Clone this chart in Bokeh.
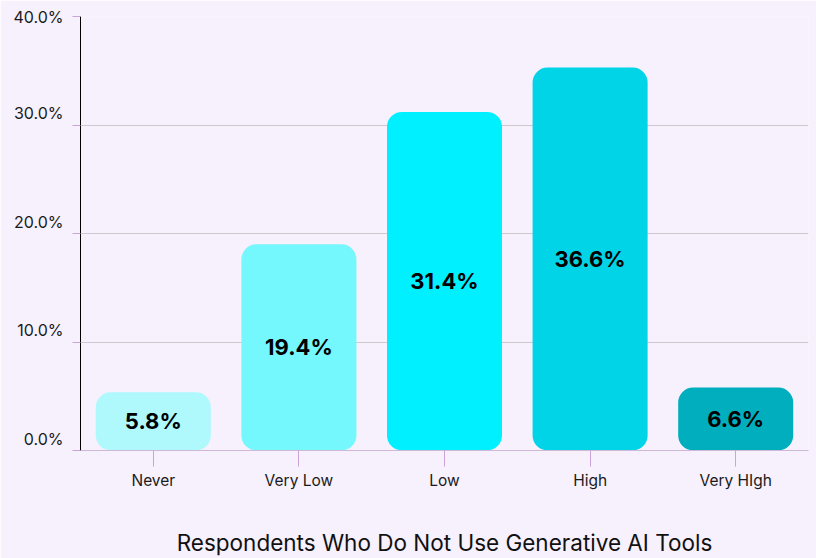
from bokeh.plotting import figure
from bokeh.models import ColumnDataSource, FixedTicker, FactorRange, Range1d
from bokeh.core.properties import value
from bokeh.embed import file_html
from bokeh.resources import INLINE

categories = ["Never", "Very Low", "Low", "High", "Very HIgh"]
bar_values = [5.37, 19.0, 31.2, 35.3, 5.8]
bar_labels = ["5.8%", "19.4%", "31.4%", "36.6%", "6.6%"]
colors = ["#aff9fd", "#74f7fd", "#00f0ff", "#00d4e6", "#00aebd"]
y_ticks = [0, 10, 20, 30, 40]
y_tick_labels = ["0.0%\n", "10.0%\n", "20.0%\n", "30.0%\n", "40.0%"]
x_title = "Respondents Who Do Not Use Generative AI Tools"

BG = "#f7f0fd"
FONT = "Inter"

src = ColumnDataSource(dict(
    cat=categories,
    val=bar_values,
    mid=[v / 2 for v in bar_values],
    lab=bar_labels,
    color=colors,
))

p = figure(
    x_range=FactorRange(factors=categories, range_padding=0),
    y_range=Range1d(0, 40),
    width=816, height=558,
    output_backend="svg", toolbar_location=None,
    min_border_left=80, min_border_right=8, min_border_top=16, min_border_bottom=0,
    background_fill_color=BG, border_fill_color=BG,
)
p.outline_line_color = None

p.vbar(x="cat", top="val", bottom=0, width=0.79, source=src,
       fill_color="color", line_color=None, border_radius=15)

p.text(x="cat", y="mid", text="lab", source=src,
       text_font=value(FONT), text_font_size="22px", text_font_style="bold",
       text_color="#000000", text_align="center", text_baseline="middle")

# grid
p.xgrid.grid_line_color = None
p.ygrid.grid_line_color = "#cccacd"
p.ygrid.grid_line_width = 1
p.ygrid.ticker = FixedTicker(ticks=y_ticks)

# y axis
ya = p.yaxis[0]
ya.ticker = FixedTicker(ticks=y_ticks)
ya.major_label_overrides = {t: l for t, l in zip(y_ticks, y_tick_labels)}
ya.axis_line_color = "#000000"
ya.axis_line_width = 1
ya.major_tick_line_color = "#c9a3da"
ya.major_tick_out = 8
ya.major_tick_in = 0
ya.minor_tick_line_color = None
ya.major_label_text_font = FONT
ya.major_label_text_font_size = "16px"
ya.major_label_text_color = "#1a1a1a"
ya.major_label_standoff = 9

# x axis
xa = p.xaxis[0]
xa.axis_line_color = "#cdb9d6"
xa.major_tick_line_color = "#c9a3da"
xa.major_tick_out = 16
xa.major_tick_in = 0
xa.minor_tick_line_color = None
xa.major_label_text_font = FONT
xa.major_label_text_font_size = "15.5px"
xa.major_label_text_color = "#1a1a1a"
xa.major_label_standoff = 4
xa.axis_label = x_title
xa.axis_label_text_font = FONT
xa.axis_label_text_font_size = "22.5px"
xa.axis_label_text_font_style = "normal"
xa.axis_label_text_color = "#111111"
xa.axis_label_standoff = 36

open("out.html", "w").write(file_html(p, INLINE))
